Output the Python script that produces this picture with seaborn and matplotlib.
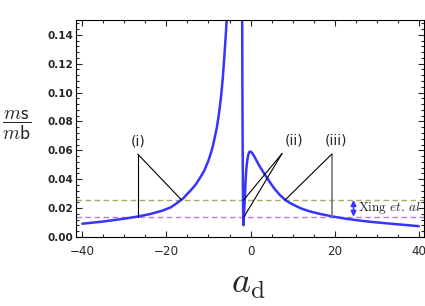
import numpy as np
import matplotlib
matplotlib.use("Agg")
import matplotlib.pyplot as plt
import seaborn as sns
from matplotlib.ticker import MultipleLocator

sns.set_theme(style="ticks")
plt.rcParams['font.family'] = ['DejaVu Sans']
plt.rcParams['mathtext.fontset'] = 'cm'

# left branch of m_s/m_b vs a_d
left_a = [-40, -36, -33, -30, -27, -24, -21, -19, -17.5, -16, -15, -14, -13, -12,
          -11, -10, -9.5, -9, -8.5, -8, -7.5, -7, -6.6, -6.3, -6.0, -5.8, -5.6]
left_r = [0.0092, 0.0104, 0.0115, 0.0127, 0.0141, 0.0158, 0.0182, 0.0205, 0.0235,
          0.0268, 0.0300, 0.0330, 0.0365, 0.0410, 0.0460, 0.0530, 0.0575, 0.0625,
          0.0690, 0.0760, 0.0855, 0.0975, 0.110, 0.122, 0.135, 0.144, 0.155]

# right branch
right_a = [-2.0, -1.95, -1.9, -1.85, -1.8, -1.75, -1.68, -1.6, -1.5, -1.35, -1.25,
           -1.15, -1.05, -0.9, -0.75, -0.6, -0.45, -0.25, 0.0, 0.3, 0.6, 1.0, 1.5,
           2.0, 2.7, 3.5, 4.3, 5.1, 5.9, 7.0, 8.2, 9.0, 10, 12, 14, 16.5, 19.5, 23,
           27, 30, 33, 36.5, 40]
right_r = [0.16, 0.12, 0.08, 0.05, 0.03, 0.016, 0.0082, 0.012, 0.019, 0.027, 0.034,
           0.040, 0.045, 0.050, 0.0535, 0.056, 0.0577, 0.0590, 0.0591, 0.0585,
           0.0572, 0.0552, 0.0525, 0.0498, 0.0465, 0.0428, 0.0393, 0.0358, 0.0327,
           0.0290, 0.0258, 0.0242, 0.0226, 0.0198, 0.0178, 0.0160, 0.0142, 0.0125,
           0.0110, 0.0101, 0.0093, 0.0084, 0.0075]

# Xing et al. band
xing_upper = 0.0256
xing_lower = 0.014

# annotation labels: (text, text pos, apex, end points)
labels = ["(i)", "(ii)", "(iii)"]
label_pos = [(-26.8, 0.0658), (10.3, 0.0665), (20.3, 0.0665)]
apex_pos = [(-26.8, 0.0573), (7.5, 0.0578), (19.3, 0.0573)]
end_pts = [[(-26.8, xing_lower), (-16.4, xing_upper)],
           [(-1.65, xing_upper), (-1.55, xing_lower)],
           [(19.3, xing_lower), (8.2, xing_upper)]]

fig = plt.figure(figsize=(4.25, 3.06), dpi=100)
ax = fig.add_axes([0.179, 0.2255, 0.818, 0.708])

blue = "#3535ff"
sns.lineplot(x=left_a, y=left_r, ax=ax, color=blue, lw=1.8)
sns.lineplot(x=right_a, y=right_r, ax=ax, color=blue, lw=1.8)

ax.axhline(xing_upper, color="#aaaa66", lw=1, ls=(0, (4, 2.5)), zorder=1)
ax.axhline(xing_lower, color="#b87fd8", lw=1, ls=(0, (4, 2.5)), zorder=1)

for lab, tp, ap, ends in zip(labels, label_pos, apex_pos, end_pts):
    ax.text(tp[0], tp[1], lab, ha="center", va="center", fontsize=10)
    for e in ends:
        col = "#777777" if (lab == "(iii)" and e[0] == ap[0]) else "black"
        lw = 1.2 if col != "black" else 0.8
        ax.plot([ap[0], e[0]], [ap[1], e[1]], color=col, lw=lw)

ax.annotate("", xy=(24.5, xing_upper), xytext=(24.5, xing_lower),
            arrowprops=dict(arrowstyle="<|-|>", color=blue, lw=1.2,
                            mutation_scale=8, shrinkA=0, shrinkB=0))
ax.text(25.6, 0.0198, r"$\mathrm{Xing}\ \mathit{et.\,al}$", fontsize=9.5,
        ha="left", va="center")

ax.set_xlim(-41.5, 41.2)
ax.set_ylim(0, 0.15)
ax.xaxis.set_minor_locator(MultipleLocator(5))
ax.yaxis.set_minor_locator(MultipleLocator(0.004))
ax.set_xticks([-40, -20, 0, 20, 40])
ax.set_xticklabels(["\u221240", "\u221220", "0", "20", "40"])
ax.set_yticks([0, 0.02, 0.04, 0.06, 0.08, 0.10, 0.12, 0.14])
ax.set_yticklabels(["0.00", "0.02", "0.04", "0.06", "0.08", "0.10", "0.12", "0.14"])
ax.tick_params(which="both", direction="in", top=True, right=True, width=0.8)
ax.tick_params(which="major", length=4.5)
ax.tick_params(which="minor", length=2.5)
ax.tick_params(axis="x", labelsize=8.6, pad=6)
ax.tick_params(axis="y", labelsize=7.5, pad=2)
for t in ax.get_yticklabels():
    t.set_fontweight("bold")
for s in ax.spines.values():
    s.set_linewidth(0.8)
    s.set_color("black")
ax.set_xlabel("")
ax.set_ylabel("")

fig.text(17 / 425, 1 - 125 / 306, r"$\dfrac{m\mathsf{s}}{m\mathsf{b}}$",
         fontsize=14, ha="center", va="center")
fig.text(248 / 425, 1 - 284 / 306, r"$a_{\mathrm{d}}$", fontsize=26,
         ha="center", va="center")

fig.savefig("out.png", dpi=100)
